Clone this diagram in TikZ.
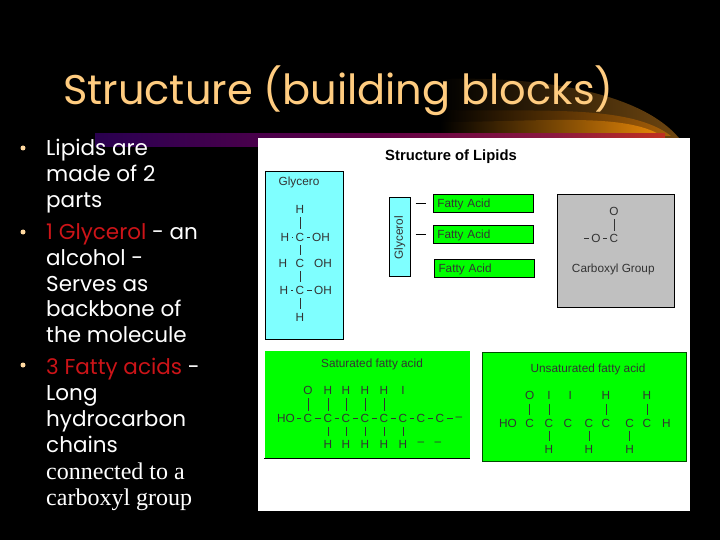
\documentclass[tikz,border=0pt]{standalone}
\usepackage{fontspec}
\setmainfont{Liberation Sans}
\newfontfamily\slidefont{Poppins}
\newfontfamily\plainfont{Liberation Serif}
\definecolor{titlecol}{HTML}{FFCC80}
\definecolor{bulletcol}{HTML}{FFD9A0}
\definecolor{slidered}{HTML}{CC1418}
\definecolor{acidgreen}{HTML}{00FF00}
\definecolor{glycyan}{HTML}{7FFFFF}
\definecolor{groupgray}{HTML}{C0C0C0}
\definecolor{swooshdark}{HTML}{6E4610}
\definecolor{swooshmid}{HTML}{A86008}
\definecolor{swooshhot}{HTML}{E88808}
\definecolor{barA}{HTML}{000040}
\definecolor{barB}{HTML}{300050}
\definecolor{barC}{HTML}{600045}
\definecolor{barD}{HTML}{8A1840}
\definecolor{barE}{HTML}{C03020}
\definecolor{barF}{HTML}{F08010}
\definecolor{barG}{HTML}{FFB820}
\pgfdeclarehorizontalshading{barfade}{100bp}{
  color(0bp)=(black);
  color(8bp)=(barA);
  color(28bp)=(barB);
  color(50bp)=(barC);
  color(65bp)=(barD);
  color(75bp)=(barE);
  color(89bp)=(barF);
  color(97bp)=(barG);
  color(100bp)=(barG)}
\tikzset{
  atom/.style={font=\fontsize{11.8}{12}\selectfont, text=black!80, inner xsep=1.5pt, inner ysep=3pt, outer sep=1pt},
  bond/.style={line width=0.6pt, black!80},
  slideline/.style={anchor=base west, font=\slidefont\fontsize{21.5}{24}\selectfont, text=white, inner sep=0pt},
  bulletdot/.style={circle, fill=bulletcol, inner sep=0pt, minimum size=5pt},
  fattybox/.style={draw=black, fill=acidgreen, minimum width=100pt, minimum height=18pt, text width=92pt, text depth=0pt, align=left, font=\fontsize{11.8}{12}\selectfont, text=black!80}
}
\begin{document}
\begin{tikzpicture}[x=1pt, y=-1pt]
  \useasboundingbox (0,0) rectangle (720,540);
  \fill[black] (0,0) rectangle (720,540);

  % Swoosh behind the title
  \shade[left color=black, right color=swooshdark] (440,134) -- (440,79) .. controls (540,76) and (640,92) .. (679,138) -- cycle;
  \shade[left color=black, right color=swooshmid] (440,134) -- (440,110) .. controls (540,112) and (630,104) .. (671,136) -- cycle;
  \shade[left color=black, right color=swooshhot] (440,134) -- (440,122) .. controls (540,122) and (625,112) .. (662,136) -- cycle;
  \shade[shading=barfade] (95,134) rectangle (665,147);

  % Panel
  \node[fill=white, minimum width=432pt, minimum height=373pt, inner sep=0pt] (panel) at (474,324.5) {};
  \node[font=\bfseries\fontsize{14.8}{16}\selectfont] (lipidTitle) at (451,157) {Structure of Lipids};

  % Glycerol box
  \node[draw=black, fill=glycyan, minimum width=78pt, minimum height=168.5pt, inner sep=0pt] (glyBox) at (304.3,255) {};
  \node[atom] (glyName) at (299,182) {Glycero};
  \node[atom] (glyTop) at (300,209) {H};
  \node[atom] (glyCa) at (300,237) {C};
  \node[atom] (glyLa) at (285,237) {H};
  \node[atom] (glyRa) at (321,237) {OH};
  \node[atom] (glyCb) at (300,263) {C};
  \node[atom] (glyLb) at (283,263) {H};
  \node[atom] (glyRb) at (323,263) {OH};
  \node[atom] (glyCc) at (300,290) {C};
  \node[atom] (glyLc) at (284,290) {H};
  \node[atom] (glyRc) at (323,290) {OH};
  \node[atom] (glyBot) at (300,317) {H};
  \draw[bond] (glyTop) -- (glyCa);
  \draw[bond] (glyCa) -- (glyCb);
  \draw[bond] (glyCb) -- (glyCc);
  \draw[bond] (glyCc) -- (glyBot);
  \draw[bond] (glyLa) -- (glyCa);
  \draw[bond] (glyCa) -- (glyRa);
  \draw[bond] (glyLc) -- (glyCc);
  \draw[bond] (glyCc) -- (glyRc);

  % Glycerol stripe and fatty acids
  \node[draw=black, fill=glycyan, minimum width=20.5pt, minimum height=79pt, inner sep=0pt] (stripe) at (399.5,236.7) {};
  \node[atom, rotate=90] (stripeName) at (399.7,237.7) {Glycerol};
  \node[fattybox] (fatA) at (483.3,203) {Fatty Acid};
  \node[fattybox] (fatB) at (483.3,234.3) {Fatty Acid};
  \node[fattybox] (fatC) at (484.5,267.8) {Fatty Acid};
  \draw[line width=0.7pt, shorten >=7pt, shorten <=5.6pt] (stripe.east |- fatA.center) -- (fatA.west);
  \draw[line width=0.7pt, shorten >=7pt, shorten <=5.6pt] (stripe.east |- fatB.center) -- (fatB.west);

  % Carboxyl group
  \node[draw=black, fill=groupgray, minimum width=116.5pt, minimum height=112.5pt, inner sep=0pt] (grayBox) at (615.5,250.5) {};
  \node[atom] (carbO) at (614,211) {O};
  \node[atom] (carbC) at (614,238.7) {C};
  \node[atom] (carbL) at (596,238.7) {O};
  \node[atom] (carbFree) at (584,238.7) {};
  \node[atom] (carbName) at (613.3,269.3) {Carboxyl Group};
  \draw[bond] (carbO) -- (carbC);
  \draw[bond] (carbL) -- (carbC);
  \draw[bond] (carbFree.center) -- (carbL);

  % Saturated fatty acid
  \node[fill=acidgreen, minimum width=205.5pt, minimum height=107.5pt, inner sep=0pt] (satBox) at (367.4,404.5) {};
  \draw[line width=0.7pt] (satBox.south west) -- (satBox.south east);
  \node[atom] (satName) at (372,364.3) {Saturated fatty acid};
  \node[atom] (satTa) at (308,390) {O};
  \node[atom] (satTb) at (328,390) {H};
  \node[atom] (satTc) at (346,390) {H};
  \node[atom] (satTd) at (365,390) {H};
  \node[atom] (satTe) at (384,390) {H};
  \node[atom] (satTf) at (403,390) {I};
  \node[atom] (satHO) at (286,418.7) {HO};
  \node[atom] (satCa) at (308,418.7) {C};
  \node[atom] (satCb) at (328,418.7) {C};
  \node[atom] (satCc) at (346,418.7) {C};
  \node[atom] (satCd) at (365,418.7) {C};
  \node[atom] (satCe) at (384,418.7) {C};
  \node[atom] (satCf) at (403,418.7) {C};
  \node[atom] (satCg) at (421,418.7) {C};
  \node[atom] (satCh) at (440,418.7) {C};
  \node[atom] (satEnd) at (459,418.7) {--};
  \node[atom] (satBb) at (328,444.3) {H};
  \node[atom] (satBc) at (346,444.3) {H};
  \node[atom] (satBd) at (365,444.3) {H};
  \node[atom] (satBe) at (384,444.3) {H};
  \node[atom] (satBf) at (403,444.3) {H};
  \node[atom] (satBg) at (421,444.3) {--};
  \node[atom] (satBh) at (438,444.3) {--};
  \draw[bond] (satTa) -- (satCa);
  \draw[bond] (satTb) -- (satCb);
  \draw[bond] (satTc) -- (satCc);
  \draw[bond] (satTd) -- (satCd);
  \draw[bond] (satTe) -- (satCe);
  \draw[bond] (satCb) -- (satBb);
  \draw[bond] (satCc) -- (satBc);
  \draw[bond] (satCd) -- (satBd);
  \draw[bond] (satCe) -- (satBe);
  \draw[bond] (satCf) -- (satBf);
  \draw[bond] (satHO) -- (satCa);
  \draw[bond] (satCa) -- (satCb);
  \draw[bond] (satCb) -- (satCc);
  \draw[bond] (satCc) -- (satCd);
  \draw[bond] (satCd) -- (satCe);
  \draw[bond] (satCe) -- (satCf);
  \draw[bond] (satCf) -- (satCg);
  \draw[bond] (satCg) -- (satCh);
  \draw[bond] (satCh) -- (satEnd);

  % Unsaturated fatty acid
  \node[draw=black!70!green, fill=acidgreen, minimum width=204pt, minimum height=108.7pt, inner sep=0pt] (unsBox) at (584.2,406.7) {};
  \node[atom] (unsName) at (588,369.3) {Unsaturated fatty acid};
  \node[atom] (unsTa) at (529.7,395.7) {O};
  \node[atom] (unsTb) at (549,395.7) {I};
  \node[atom] (unsTc) at (570.3,395.7) {I};
  \node[atom] (unsTd) at (606,395.7) {H};
  \node[atom] (unsTe) at (647,395.7) {H};
  \node[atom] (unsHO) at (508,423.3) {HO};
  \node[atom] (unsCa) at (529.7,423.3) {C};
  \node[atom] (unsCb) at (549,423.3) {C};
  \node[atom] (unsCc) at (568,423.3) {C};
  \node[atom] (unsCd) at (589,423.3) {C};
  \node[atom] (unsCe) at (606,423.3) {C};
  \node[atom] (unsCf) at (629.7,423.3) {C};
  \node[atom] (unsCg) at (647,423.3) {C};
  \node[atom] (unsEnd) at (666.3,423.3) {H};
  \node[atom] (unsBb) at (549,449.3) {H};
  \node[atom] (unsBd) at (589,449.3) {H};
  \node[atom] (unsBf) at (629.7,449.3) {H};
  \draw[bond] (unsTa) -- (unsCa);
  \draw[bond] (unsTb) -- (unsCb);
  \draw[bond] (unsTd) -- (unsCe);
  \draw[bond] (unsTe) -- (unsCg);
  \draw[bond] (unsCb) -- (unsBb);
  \draw[bond] (unsCd) -- (unsBd);
  \draw[bond] (unsCf) -- (unsBf);

  % Slide text
  \node[anchor=base west, inner sep=0pt, font=\slidefont\fontsize{41.5}{44}\selectfont, text=titlecol] (slideTitle) at (63,105) {Structure (building blocks)};
  \node[bulletdot] (dotA) at (23,148) {};
  \node[bulletdot] (dotB) at (23,232) {};
  \node[bulletdot] (dotC) at (23,365) {};
  \node[slideline] (lineA) at (46,155.7) {Lipids are};
  \node[slideline] (lineB) at (46,181.7) {made of 2};
  \node[slideline] (lineC) at (46,207.3) {parts};
  \node[slideline] (lineD) at (46,239.3) {\textcolor{slidered}{1 Glycerol} - an};
  \node[slideline] (lineE) at (46,265) {alcohol -};
  \node[slideline] (lineF) at (46,291) {Serves as};
  \node[slideline] (lineG) at (46,316.7) {backbone of};
  \node[slideline] (lineH) at (46,342) {the molecule};
  \node[slideline] (lineI) at (46,374.3) {\textcolor{slidered}{3 Fatty acids} -};
  \node[slideline] (lineJ) at (46,400.7) {Long};
  \node[slideline] (lineK) at (46,426.7) {hydrocarbon};
  \node[slideline] (lineL) at (46,452) {chains};
  \node[slideline, font=\plainfont\fontsize{24}{26}\selectfont] (lineM) at (46,479) {connected to a};
  \node[slideline, font=\plainfont\fontsize{24}{26}\selectfont] (lineN) at (46,505) {carboxyl group};
\end{tikzpicture}
\end{document}
